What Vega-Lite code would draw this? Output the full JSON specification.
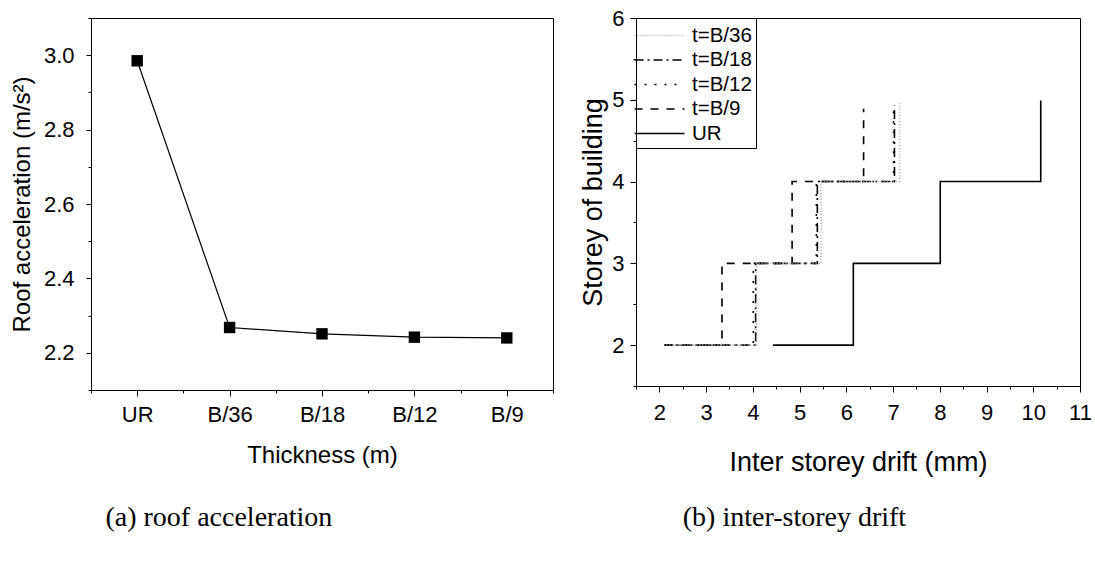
{
  "$schema": "https://vega.github.io/schema/vega-lite/v6.json",
  "background": "white",
  "padding": {"left": 9, "top": 6, "right": 5, "bottom": 2},
  "bounds": "flush",
  "spacing": 83,
  "resolve": {
    "scale": {"color": "independent", "strokeDash": "independent"},
    "legend": {"color": "independent", "strokeDash": "independent"}
  },
  "config": {
    "font": "Liberation Sans",
    "view": {"stroke": "black", "strokeWidth": 1},
    "axis": {
      "grid": false,
      "domainColor": "black",
      "tickColor": "black",
      "labelColor": "black",
      "titleColor": "black",
      "labelFont": "Liberation Sans",
      "titleFont": "Liberation Sans",
      "titleFontWeight": "normal",
      "domainWidth": 1,
      "tickWidth": 1,
      "labelFlush": false,
      "labelOverlap": false
    }
  },
  "hconcat": [
    {
      "width": 462,
      "height": 372,
      "title": {"text": "(a)  roof acceleration", "orient": "bottom", "anchor": "start", "dx": 95, "offset": 37, "font": "Liberation Serif", "fontSize": 28, "fontWeight": "normal", "color": "black"},
      "data": {"values": [
        {"t": "UR", "pos": 1, "acc": 2.985},
        {"t": "B/36", "pos": 2, "acc": 2.268},
        {"t": "B/18", "pos": 3, "acc": 2.251},
        {"t": "B/12", "pos": 4, "acc": 2.242},
        {"t": "B/9", "pos": 5, "acc": 2.240}
      ]},
      "layer": [
        {
          "mark": {"type": "line", "color": "black", "strokeWidth": 1.2},
          "encoding": {
            "x": {"field": "pos", "type": "quantitative", "scale": {"domain": [0.5, 5.5], "nice": false, "zero": false},
              "axis": {"values": [1, 2, 3, 4, 5], "labelExpr": "['', 'UR', 'B/36', 'B/18', 'B/12', 'B/9'][datum.value]", "title": "Thickness (m)", "tickSize": 6, "labelPadding": 8, "labelFontSize": 22, "titleFontSize": 24, "titlePadding": 18, "orient": "bottom"}},
            "y": {"field": "acc", "type": "quantitative", "scale": {"domain": [2.1, 3.1], "nice": false, "zero": false},
              "axis": {"values": [2.2, 2.4, 2.6, 2.8, 3.0], "format": ".1f", "title": "Roof acceleration (m/s²)", "tickSize": 5, "labelPadding": 12, "labelFontSize": 22, "titleFontSize": 24, "titlePadding": 9, "orient": "left"}}
          }
        },
        {
          "mark": {"type": "point", "shape": "square", "filled": true, "size": 130, "color": "black", "opacity": 1},
          "encoding": {
            "x": {"field": "pos", "type": "quantitative", "axis": {"values": [0.5, 1.5, 2.5, 3.5, 4.5, 5.5], "labels": false, "domain": false, "tickSize": 3, "title": null, "orient": "bottom"}},
            "y": {"field": "acc", "type": "quantitative", "axis": {"values": [2.1, 2.3, 2.5, 2.7, 2.9, 3.1], "labels": false, "domain": false, "tickSize": 3, "title": null, "orient": "left"}}
          }
        }
      ],
      "resolve": {"axis": {"x": "independent", "y": "independent"}}
    },
    {
      "width": 444,
      "height": 368,
      "title": {"text": "(b) inter-storey drift", "orient": "bottom", "anchor": "start", "dx": 103, "offset": 29, "font": "Liberation Serif", "fontSize": 28, "fontWeight": "normal", "color": "black"},
      "data": {"values": [
        {"s": "UR", "i": 1, "x": 4.43, "y": 2},
        {"s": "UR", "i": 2, "x": 6.15, "y": 2},
        {"s": "UR", "i": 3, "x": 6.15, "y": 3},
        {"s": "UR", "i": 4, "x": 8.01, "y": 3},
        {"s": "UR", "i": 5, "x": 8.01, "y": 4},
        {"s": "UR", "i": 6, "x": 10.16, "y": 4},
        {"s": "UR", "i": 7, "x": 10.16, "y": 4.99},
        {"s": "t=B/9", "i": 1, "x": 2.11, "y": 2},
        {"s": "t=B/9", "i": 2, "x": 3.34, "y": 2},
        {"s": "t=B/9", "i": 3, "x": 3.34, "y": 3},
        {"s": "t=B/9", "i": 4, "x": 4.84, "y": 3},
        {"s": "t=B/9", "i": 5, "x": 4.84, "y": 4},
        {"s": "t=B/9", "i": 6, "x": 6.37, "y": 4},
        {"s": "t=B/9", "i": 7, "x": 6.37, "y": 4.89},
        {"s": "t=B/18", "i": 1, "x": 2.11, "y": 2},
        {"s": "t=B/18", "i": 2, "x": 4.06, "y": 2},
        {"s": "t=B/18", "i": 3, "x": 4.06, "y": 3},
        {"s": "t=B/18", "i": 4, "x": 5.38, "y": 3},
        {"s": "t=B/18", "i": 5, "x": 5.38, "y": 4},
        {"s": "t=B/18", "i": 6, "x": 7.03, "y": 4},
        {"s": "t=B/18", "i": 7, "x": 7.03, "y": 4.93},
        {"s": "t=B/12", "i": 1, "x": 2.13, "y": 2},
        {"s": "t=B/12", "i": 2, "x": 4.01, "y": 2},
        {"s": "t=B/12", "i": 3, "x": 4.01, "y": 3},
        {"s": "t=B/12", "i": 4, "x": 5.36, "y": 3},
        {"s": "t=B/12", "i": 5, "x": 5.36, "y": 4},
        {"s": "t=B/12", "i": 6, "x": 7.01, "y": 4},
        {"s": "t=B/12", "i": 7, "x": 7.01, "y": 4.95},
        {"s": "t=B/36", "i": 1, "x": 2.15, "y": 2},
        {"s": "t=B/36", "i": 2, "x": 4.08, "y": 2},
        {"s": "t=B/36", "i": 3, "x": 4.08, "y": 3},
        {"s": "t=B/36", "i": 4, "x": 5.46, "y": 3},
        {"s": "t=B/36", "i": 5, "x": 5.46, "y": 4},
        {"s": "t=B/36", "i": 6, "x": 7.14, "y": 4},
        {"s": "t=B/36", "i": 7, "x": 7.14, "y": 4.97}
      ]},
      "layer": [
        {
          "mark": {"type": "line", "strokeWidth": 1.6},
          "encoding": {
            "x": {"field": "x", "type": "quantitative", "scale": {"domain": [1.5, 11], "nice": false, "zero": false},
              "axis": {"values": [2, 3, 4, 5, 6, 7, 8, 9, 10, 11], "title": "Inter storey drift (mm)", "tickSize": 6, "labelPadding": 10, "labelFontSize": 22, "titleFontSize": 27, "titlePadding": 26, "orient": "bottom"}},
            "y": {"field": "y", "type": "quantitative", "scale": {"domain": [1.5, 6], "nice": false, "zero": false},
              "axis": {"values": [2, 3, 4, 5, 6], "title": "Storey of building", "tickSize": 6, "labelPadding": 6, "labelFontSize": 22, "titleFontSize": 27, "titlePadding": 4, "orient": "left"}},
            "order": {"field": "i", "type": "quantitative"},
            "color": {"field": "s", "type": "nominal",
              "scale": {"domain": ["t=B/36", "t=B/18", "t=B/12", "t=B/9", "UR"], "range": ["#a8a8a8", "black", "black", "black", "black"]},
              "legend": {"title": null, "orient": "top-left", "offset": 0, "padding": 4, "strokeColor": "black", "fillColor": "white", "symbolType": "M-2,0H2", "symbolSize": 625, "symbolOffset": 6, "symbolStrokeWidth": 1.5, "labelFontSize": 20.5, "labelFont": "Liberation Sans", "labelColor": "black", "labelOffset": 19, "rowPadding": 0.5, "labelLimit": 200}},
            "strokeDash": {"field": "s", "type": "nominal",
              "scale": {"domain": ["t=B/36", "t=B/18", "t=B/12", "t=B/9", "UR"], "range": [[1, 2], [9, 4, 2, 4], [2, 8], [8, 8], [1, 0]]},
              "legend": {"title": null, "orient": "top-left", "offset": 0, "padding": 4, "strokeColor": "black", "fillColor": "white", "symbolType": "M-2,0H2", "symbolSize": 625, "symbolOffset": 6, "symbolStrokeWidth": 1.5, "labelFontSize": 20.5, "labelFont": "Liberation Sans", "labelColor": "black", "labelOffset": 19, "rowPadding": 0.5, "labelLimit": 200}}
          }
        },
        {
          "mark": {"type": "point", "opacity": 0},
          "encoding": {
            "x": {"field": "x", "type": "quantitative", "axis": {"values": [1.5, 2.5, 3.5, 4.5, 5.5, 6.5, 7.5, 8.5, 9.5, 10.5], "labels": false, "domain": false, "tickSize": 3, "title": null, "orient": "bottom"}},
            "y": {"field": "y", "type": "quantitative", "axis": {"values": [1.5, 2.5, 3.5, 4.5, 5.5], "labels": false, "domain": false, "tickSize": 3, "title": null, "orient": "left"}}
          }
        }
      ],
      "resolve": {"axis": {"x": "independent", "y": "independent"}}
    }
  ]
}
